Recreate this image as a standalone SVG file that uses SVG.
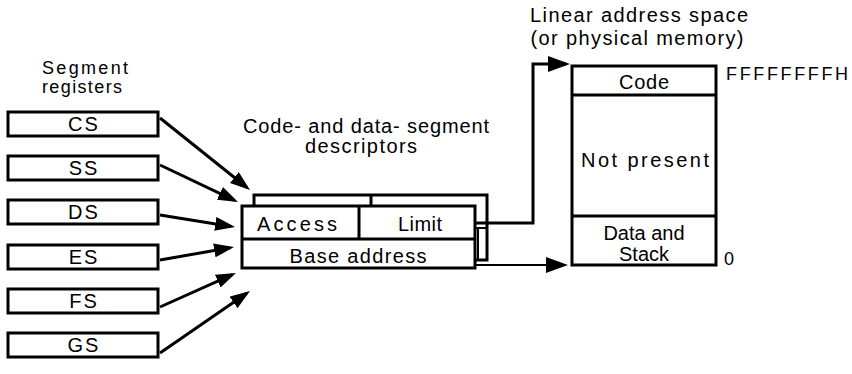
<svg xmlns="http://www.w3.org/2000/svg" width="852" height="374" viewBox="0 0 852 374">
<style>
.box{fill:#fff;stroke:#000;stroke-width:3}
.ln{fill:none;stroke:#000;stroke-width:3}
.thin{fill:none;stroke:#000;stroke-width:2}
text{font-family:"Liberation Sans",Arial,Helvetica,sans-serif;font-size:20px;fill:#000;text-anchor:middle}
.reg{font-size:20px;letter-spacing:2px}
.hd{font-size:18px}
</style>
<defs>
<marker id="ah" markerUnits="userSpaceOnUse" markerWidth="22" markerHeight="16" refX="16" refY="7" orient="auto">
<path d="M0,0 L20,7 L0,14 Z" fill="#000"/>
</marker>
<marker id="ah2" markerUnits="userSpaceOnUse" markerWidth="26" markerHeight="18" refX="18" refY="8" orient="auto">
<path d="M0,0 L22,8 L0,16 Z" fill="#000"/>
</marker>
</defs>
<g id="label-segment-registers">
<text class="hd" x="85" y="74" textLength="86" lengthAdjust="spacing">Segment</text>
<text class="hd" x="82" y="93" textLength="80" lengthAdjust="spacing">registers</text>
</g>
<g id="label-descriptors">
<text x="366" y="133" textLength="246" lengthAdjust="spacing">Code- and data- segment</text>
<text x="361" y="153" textLength="112" lengthAdjust="spacing">descriptors</text>
</g>
<g id="label-linear">
<text x="639" y="22" textLength="218" lengthAdjust="spacing">Linear address space</text>
<text x="637" y="45" textLength="213" lengthAdjust="spacing">(or physical memory)</text>
</g>
<g id="reg-cs"><rect class="box" x="8" y="112" width="150" height="24"/><text class="reg" x="84" y="131">CS</text></g>
<g id="reg-ss"><rect class="box" x="8" y="156" width="150" height="24"/><text class="reg" x="84" y="175">SS</text></g>
<g id="reg-ds"><rect class="box" x="8" y="200" width="150" height="24"/><text class="reg" x="84" y="219">DS</text></g>
<g id="reg-es"><rect class="box" x="8" y="245" width="150" height="24"/><text class="reg" x="84" y="264">ES</text></g>
<g id="reg-fs"><rect class="box" x="8" y="289" width="150" height="24"/><text class="reg" x="84" y="308">FS</text></g>
<g id="reg-gs"><rect class="box" x="8" y="333" width="150" height="24"/><text class="reg" x="84" y="352">GS</text></g>
<g id="descriptor">
<path class="ln" d="M254,206 V195 H487 V260 H475"/>
<path class="ln" d="M371,195 V206"/>
<path class="thin" d="M478,228 V260 M475,228 H487"/>
<rect class="box" x="242" y="206" width="233" height="62"/>
<path class="ln" d="M242,239 H475 M359,206 V239"/>
<text x="297" y="231" textLength="80" lengthAdjust="spacing">Access</text>
<text x="420" y="231" textLength="44" lengthAdjust="spacing">Limit</text>
<text x="358" y="263" textLength="137" lengthAdjust="spacing">Base address</text>
</g>
<g id="memory">
<rect class="box" x="572" y="66" width="144" height="199"/>
<path class="ln" d="M572,95 H716 M572,216 H716"/>
<text x="644" y="89" textLength="50" lengthAdjust="spacing">Code</text>
<text x="645" y="167" textLength="128" lengthAdjust="spacing">Not present</text>
<text x="644" y="240">Data and</text>
<text x="644" y="261">Stack</text>
<text x="787" y="80" style="font-size:18px" textLength="122" lengthAdjust="spacing">FFFFFFFFH</text>
<text x="729" y="265" style="font-size:18px">0</text>
</g>
<g id="connectors">
<line class="ln" x1="160" y1="118" x2="246.9" y2="187.5" marker-end="url(#ah)"/>
<line class="ln" x1="160" y1="165" x2="234.4" y2="200.3" marker-end="url(#ah)"/>
<line class="ln" x1="160" y1="215" x2="231.1" y2="226.4" marker-end="url(#ah)"/>
<line class="ln" x1="160" y1="260" x2="230.1" y2="247.7" marker-end="url(#ah)"/>
<line class="ln" x1="160" y1="307" x2="232.3" y2="274.6" marker-end="url(#ah)"/>
<line class="ln" x1="160" y1="353" x2="246.7" y2="293.3" marker-end="url(#ah)"/>
<path class="ln" d="M475,223 H533 V64 H566" marker-end="url(#ah2)"/>
<path class="thin" d="M475,265 H564" marker-end="url(#ah2)"/>
</g>
</svg>
